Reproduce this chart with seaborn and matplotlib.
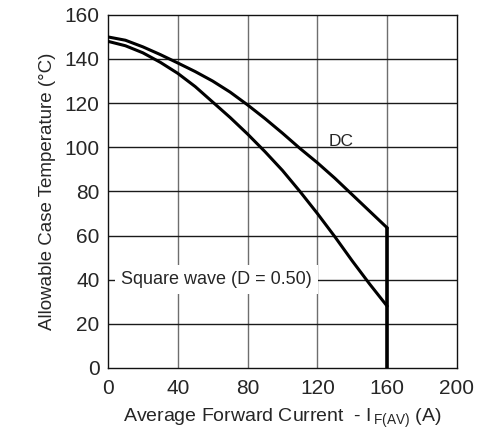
import pandas as pd
import matplotlib
matplotlib.use('Agg')
import matplotlib.pyplot as plt
import seaborn as sns

# Values
current = [0, 10, 20, 30, 40, 50, 60, 70, 80, 90, 100, 110, 120, 130, 140, 150, 160]
dc_temp = [150, 148.5, 145.5, 142, 138.2, 134.3, 130, 125, 119.2, 113, 106.4, 99.5, 93, 86, 78.5, 71, 63.5]
sq_temp = [148, 146, 142.8, 138.5, 133.5, 127.5, 120.5, 113.5, 106, 98, 89.5, 80, 70, 59.5, 48.5, 38, 28]
limit_x = [160, 160]
limit_y = [63.5, 0]

x_ticks = [0, 40, 80, 120, 160, 200]
y_ticks = [0, 20, 40, 60, 80, 100, 120, 140, 160]

sns.set_style('white')
plt.rcParams['font.family'] = ['Liberation Sans', 'DejaVu Sans']
plt.rcParams['mathtext.fontset'] = 'custom'
plt.rcParams['mathtext.rm'] = 'Liberation Sans'
plt.rcParams['mathtext.it'] = 'Liberation Sans'

df = pd.DataFrame({'current': current, 'DC': dc_temp, 'Square': sq_temp})

fig = plt.figure(figsize=(4.82, 4.37), dpi=100)
ax = fig.add_axes([0.224, 0.158, 0.724, 0.808])

# Grid lines: vertical grey, horizontal darker
for xv in x_ticks[1:-1]:
    ax.axvline(xv, color='#6e6e6e', lw=1.0, zorder=1)
for yv in y_ticks[1:-1]:
    ax.axhline(yv, color='#1a1a1a', lw=1.0, zorder=1)

sns.lineplot(data=df, x='current', y='DC', ax=ax, color='black', lw=2.2, zorder=3)
sns.lineplot(data=df, x='current', y='Square', ax=ax, color='black', lw=2.2, zorder=3)
sns.lineplot(x=limit_x, y=limit_y, ax=ax, color='black', lw=2.6, estimator=None, sort=False, zorder=3)

ax.set_xlim(0, 200)
ax.set_ylim(0, 160)
ax.set_xticks(x_ticks)
ax.set_yticks(y_ticks)
ax.tick_params(axis='x', length=0, pad=8, labelsize=15)
ax.tick_params(axis='y', length=0, pad=6, labelsize=15)

for s in ax.spines.values():
    s.set_color('#111111')
    s.set_linewidth(1.0)

ax.text(126.5, 100.8, 'DC', fontsize=12.5, ha='left', va='baseline', zorder=4)
ax.text(7.5, 40, 'Square wave (D = 0.50)', fontsize=13, ha='left', va='center', zorder=4,
        bbox=dict(facecolor='white', edgecolor='none', boxstyle='square,pad=0.35'))

ax.set_xlabel(r'Average Forward Current  - I$_{\,\mathrm{F(AV)}}$ (A)', fontsize=14, labelpad=6)
ax.set_ylabel('Allowable Case Temperature (°C)', fontsize=13.5, labelpad=6)

fig.savefig('out.png', dpi=100)
